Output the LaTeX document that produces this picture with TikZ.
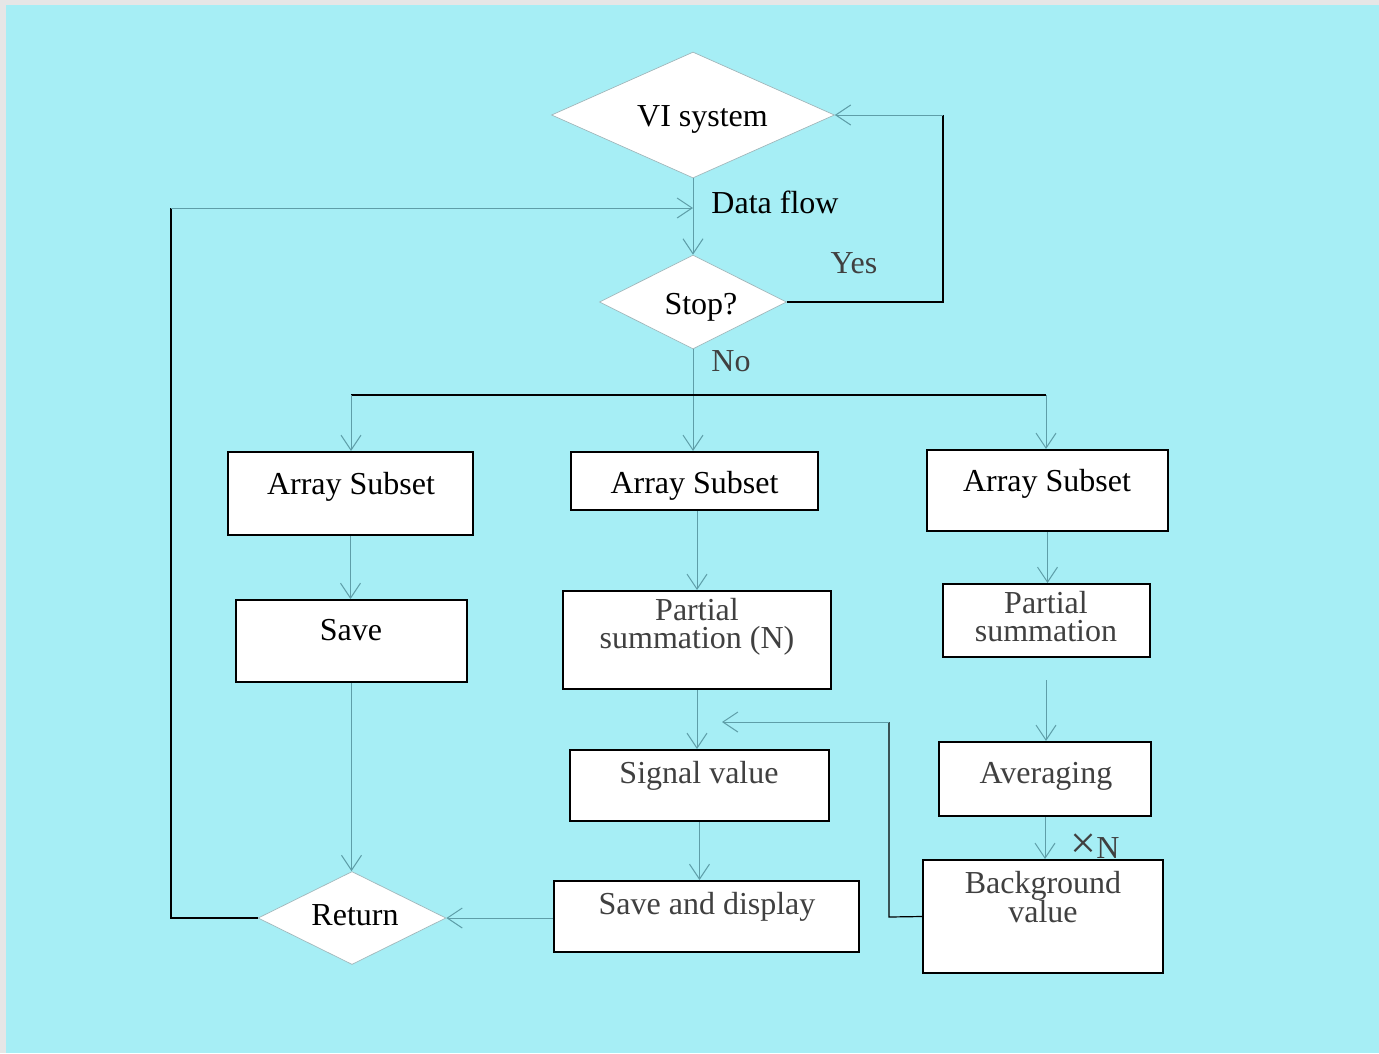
\documentclass[tikz,border=0pt]{standalone}
\usepackage{fontspec}
\setmainfont{Liberation Serif}
\usetikzlibrary{shapes.geometric,arrows.meta}

\definecolor{paper}{HTML}{A6EEF5}
\definecolor{frame}{HTML}{E6E6E6}
\definecolor{wire}{HTML}{5E9EA8}
\definecolor{softtext}{HTML}{404040}
\definecolor{rim}{HTML}{A0B8BC}

\tikzset{
  boxnode/.style={draw=black, line width=2pt, fill=white, inner sep=0pt},
  decision/.style={diamond, draw=rim, line width=0.7pt, fill=white, inner sep=0pt},
  txt/.style={inner sep=0pt, anchor=base, font=\fontsize{32}{36}\selectfont, text=black},
  soft/.style={txt, text=softtext},
  twoline/.style={inner sep=0pt, anchor=center, align=center, text=softtext,
                  font=\fontsize{32}{28}\selectfont},
  flow/.style={draw=wire, line width=1pt, -{Straight Barb[length=15pt,width=20pt,line width=1pt]}},
  dark/.style={draw=black, line width=1.2pt},
}

\begin{document}
\begin{tikzpicture}[x=1pt, y=-1pt]
  % canvas
  \fill[frame] (0,0) rectangle (1379,1053);
  \fill[paper] (6,5) rectangle (1379,1053);
  \useasboundingbox (0,0) rectangle (1379,1053);

  % decisions
  \node[decision, minimum width=283pt, minimum height=126pt] (vi) at (693,115) {};
  \node[decision, minimum width=187pt, minimum height=94pt] (stop) at (693,302) {};
  \node[decision, minimum width=188pt, minimum height=93pt] (ret) at (352,918) {};

  % boxes
  \node[boxnode, minimum width=245pt, minimum height=83pt] (as1) at (350.5,493.5) {};
  \node[boxnode, minimum width=247pt, minimum height=58pt] (as2) at (694.5,481) {};
  \node[boxnode, minimum width=241pt, minimum height=81pt] (as3) at (1047.5,490.5) {};
  \node[boxnode, minimum width=231pt, minimum height=82pt] (save) at (351.5,641) {};
  \node[boxnode, minimum width=268pt, minimum height=98pt] (psn) at (697,640) {};
  \node[boxnode, minimum width=207pt, minimum height=73pt] (ps) at (1046.5,620.5) {};
  \node[boxnode, minimum width=259pt, minimum height=71pt] (sig) at (699.5,785.5) {};
  \node[boxnode, minimum width=212pt, minimum height=74pt] (avg) at (1045,779) {};
  \node[boxnode, minimum width=305pt, minimum height=71pt] (sd) at (706.5,916.5) {};
  \node[boxnode, minimum width=240pt, minimum height=113pt] (bg) at (1043,916.5) {};

  % texts
  \node[txt] (tvi) at (702.5,126) {VI system};
  \node[txt] (tflow) at (775,213) {Data flow};
  \node[soft] (tyes) at (854,273) {Yes};
  \node[txt] (tstop) at (701,314) {Stop?};
  \node[soft] (tno) at (731,371) {No};
  \node[txt] (tas1) at (351,494) {Array Subset};
  \node[txt] (tas2) at (694.5,493) {Array Subset};
  \node[txt] (tas3) at (1047,491) {Array Subset};
  \node[txt] (tsave) at (351,640) {Save};
  \node[twoline] (tpsn) at (697,627) {Partial\\summation (N)};
  \node[twoline] (tps) at (1046,616.5) {Partial\\summation};
  \node[soft] (tsig) at (699,783) {Signal value};
  \node[soft] (tavg) at (1046,783) {Averaging};
  \node[soft] (tsd) at (707,914) {Save and display};
  \node[soft] (tbga) at (1043,893) {Background};
  \node[soft] (tbgb) at (1043,922) {value};
  \node[txt] (tret) at (355,925) {Return};
  \node[soft] (ttimes) at (1095,858) {{\fontsize{46}{46}\selectfont ×}N};

  % bend points
  \coordinate (lb) at (171,918);
  \coordinate (lt) at (171,208);
  \coordinate (ja) at (693,208);
  \coordinate (yb) at (943,302);
  \coordinate (yt) at (943,115);
  \coordinate (bl) at (351,395);
  \coordinate (brr) at (1046,395);
  \coordinate (pa) at (1046,680);
  \coordinate (gb) at (889,917);
  \coordinate (gt) at (889,722);
  \coordinate (ge) at (722,722);

  % main stream
  \draw[flow] (vi.south) -- (stop.north);
  \draw[flow] (stop.south) -- (stop.south |- as2.north);

  % return loop
  \draw[dark] (ret.west) -- (lb) -- (lt);
  \draw[flow] (lt) -- (ja);

  % yes loop
  \draw[dark] (stop.east) -- (yb) -- (yt);
  \draw[flow] (yt) -- (vi.east);

  % branching
  \draw[dark] (bl) -- (brr);
  \draw[flow] (bl) -- (bl |- as1.north);
  \draw[flow] (brr) -- (brr |- as3.north);

  % left column
  \draw[flow] (as1.south) -- (as1.south |- save.north);
  \draw[flow] (save.south) -- (save.south |- ret.north);

  % middle column
  \draw[flow] (psn.north |- as2.south) -- (psn.north);
  \draw[flow] (psn.south) -- (psn.south |- sig.north);
  \draw[flow] (sig.south) -- (sig.south |- sd.north);
  \draw[flow] (sd.west |- ret.east) -- (ret.east);

  % right column
  \draw[flow] (as3.south) -- (as3.south |- ps.north);
  \draw[flow] (pa) -- (pa |- avg.north);
  \draw[flow] (avg.south) -- (avg.south |- bg.north);

  % background feedback
  \draw[dark] (bg.west) -- (gb) -- (gt);
  \draw[flow] (gt) -- (ge);
\end{tikzpicture}
\end{document}
